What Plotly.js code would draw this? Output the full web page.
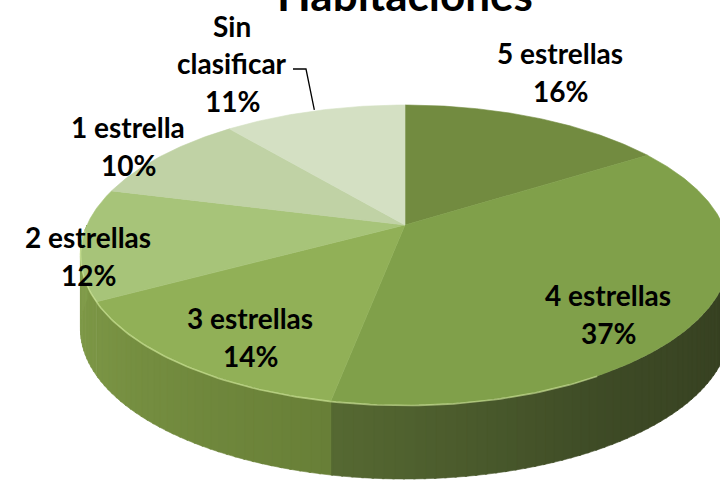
<!DOCTYPE html>
<html><head><meta charset="utf-8">
<script src="https://cdn.plot.ly/plotly-3.0.1.min.js"></script>
<style>html,body{margin:0;padding:0;background:#fff;overflow:hidden}#chart{width:720px;height:481px}</style>
</head><body><div id="chart"></div>
<script>
// ---- data ----
const categories = ["5 estrellas", "4 estrellas", "3 estrellas", "2 estrellas", "1 estrella", "Sin clasificar"];
const percentages = [16, 37, 14, 12, 10, 11];
const labelLines = [["5 estrellas"], ["4 estrellas"], ["3 estrellas"], ["2 estrellas"], ["1 estrella"], ["Sin", "clasificar"]];
const chartTitle = "Habitaciones";

// ---- style / layout constants ----
const sliceColors = [[114,139,64],[128,160,74],[145,176,87],[167,196,121],[192,210,165],[212,224,195]];
const labelCenters = [[560,72],[608,314],[250,337],[88,256],[128,146],[232,63]];
const CX = 405, CY = 225, R = 318, S = 144, K = 0.2, H = 74;
const FONT = "Lato, 'Open Sans', sans-serif";

function proj(deg, r) {
  const a = deg * Math.PI / 180;
  const u = r * Math.sin(a), v = r * Math.cos(a);
  const d = 1 + K * v;
  return [CX + R * u / d, CY - S * v / d, d];
}
function rgb(c) { return 'rgb(' + c.map(x => Math.round(x)).join(',') + ')'; }
function lerpStops(stops, a) {
  if (a <= stops[0][0]) return stops[0][1];
  for (let j = 1; j < stops.length; j++) {
    if (a <= stops[j][0]) {
      const t = (a - stops[j-1][0]) / (stops[j][0] - stops[j-1][0]);
      return stops[j-1][1].map((v, k) => v + (stops[j][1][k] - v) * t);
    }
  }
  return stops[stops.length - 1][1];
}
const darkWall = [[95,[50,58,30]],[150,[62,75,38]],[191,[86,105,50]]];
const lightWall = [[191,[104,127,55]],[240,[122,148,68]],[270,[130,157,76]]];

const total = percentages.reduce((a, b) => a + b, 0);
const starts = [], ends = [];
let acc = 0;
percentages.forEach(p => { starts.push(acc / total * 360); acc += p; ends.push(acc / total * 360); });

const traces = [];
// side walls (front half only), drawn as thin shaded strips
percentages.forEach((p, i) => {
  const a0 = Math.max(starts[i], 90), a1 = Math.min(ends[i], 270);
  if (a1 <= a0) return;
  const step = 1.5;
  for (let a = a0; a < a1; a += step) {
    const b = Math.min(a + step + 0.3, a1);
    const t0 = proj(a, 1), t1 = proj(b, 1);
    const m = (a + b) / 2;
    const col = rgb(i === 1 ? lerpStops(darkWall, m) : lerpStops(lightWall, m));
    traces.push({
      type: 'scatter', mode: 'lines', fill: 'toself', hoverinfo: 'skip',
      x: [t0[0], t1[0], t1[0], t0[0], t0[0]],
      y: [t0[1], t1[1], t1[1] + H, t0[1] + H, t0[1]],
      fillcolor: col, line: {width: 0.6, color: col}
    });
  }
});
// top faces
percentages.forEach((p, i) => {
  const xs = [CX], ys = [CY];
  for (let a = starts[i]; a <= ends[i] + 1e-9; a += 0.5) { const q = proj(a, 1); xs.push(q[0]); ys.push(q[1]); }
  const qe = proj(ends[i], 1); xs.push(qe[0]); ys.push(qe[1]);
  xs.push(CX); ys.push(CY);
  traces.push({
    type: 'scatter', mode: 'lines', fill: 'toself', hoverinfo: 'skip', name: categories[i],
    x: xs, y: ys, fillcolor: rgb(sliceColors[i]), line: {width: 0.6, color: rgb(sliceColors[i])}
  });
});
// front rim highlight
(function () {
  const xs = [], ys = [];
  for (let a = 150; a <= 268; a += 1) { const q = proj(a, 1); xs.push(q[0]); ys.push(q[1] + 0.5); }
  traces.push({type: 'scatter', mode: 'lines', hoverinfo: 'skip', x: xs, y: ys,
    line: {width: 1.6, color: 'rgba(215,238,160,0.6)'}});
})();
// leader line for the last slice
(function () {
  const i = 5, mid = (starts[i] + ends[i]) / 2, e = proj(mid, 1);
  const c = labelCenters[i];
  traces.push({type: 'scatter', mode: 'lines', hoverinfo: 'skip',
    x: [c[0] + 61, c[0] + 74, e[0]], y: [c[1] + 6, c[1] + 6, e[1] - 1],
    line: {width: 1.3, color: '#000'}});
})();

const annotations = [];
percentages.forEach((p, i) => {
  const lines = labelLines[i].concat([p + '%']);
  const n = lines.length;
  lines.forEach((t, j) => {
    annotations.push({
      xref: 'x', yref: 'y', x: labelCenters[i][0], y: labelCenters[i][1] + (j - (n - 1) / 2) * 37.5,
      text: t, showarrow: false, xanchor: 'center', yanchor: 'middle',
      font: {family: FONT, size: 28, color: '#000', weight: 'bold'}
    });
  });
});
annotations.push({
  xref: 'paper', yref: 'paper', x: 405 / 720, y: 1 + 6 / 481, text: chartTitle, showarrow: false,
  xanchor: 'center', yanchor: 'middle', font: {family: FONT, size: 44, color: '#000', weight: 'bold'}
});

const layout = {
  width: 720, height: 481, margin: {l: 0, r: 0, t: 0, b: 0},
  paper_bgcolor: '#fff', plot_bgcolor: '#fff', showlegend: false,
  xaxis: {range: [0, 720], visible: false, fixedrange: true},
  yaxis: {range: [481, 0], visible: false, fixedrange: true},
  annotations: annotations
};
Plotly.newPlot('chart', traces, layout, {staticPlot: true, displayModeBar: false});
</script></body></html>
